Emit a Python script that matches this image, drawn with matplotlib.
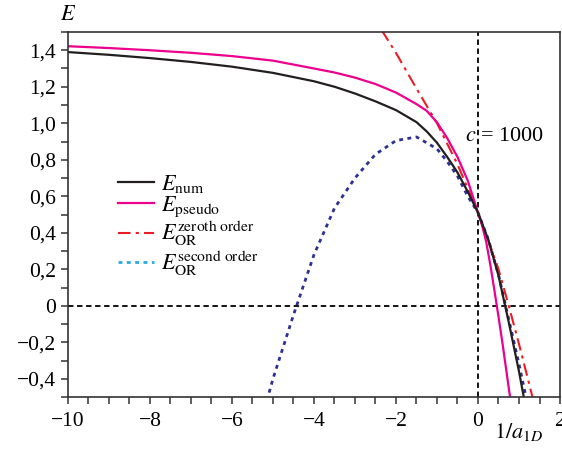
import matplotlib
matplotlib.use("Agg")
import matplotlib.pyplot as plt
from matplotlib.lines import Line2D
from matplotlib.ticker import MultipleLocator, FuncFormatter

plt.rcParams['font.family'] = ['Liberation Serif', 'DejaVu Serif']
plt.rcParams['mathtext.fontset'] = 'stix'

# E_num (black)
x_num = [-10, -9, -8, -7, -6, -5, -4, -3.5, -3, -2.5, -2, -1.5, -1.25, -1.0, -0.75,
         -0.5, -0.25, 0, 0.25, 0.5, 0.75, 1.0, 1.15]
e_num = [1.390, 1.375, 1.357, 1.336, 1.310, 1.276, 1.230, 1.200, 1.163, 1.120,
         1.072, 1.006, 0.955, 0.893, 0.815, 0.730, 0.625, 0.510, 0.362, 0.165,
         -0.09, -0.36, -0.54]

# E_pseudo (magenta)
x_pseudo = [-10, -9, -8, -7, -6, -5, -4, -3.5, -3, -2.5, -2, -1.5, -1.25, -1.0,
            -0.75, -0.5, -0.25, 0, 0.1, 0.2, 0.3, 0.4, 0.5, 0.6, 0.7, 0.8]
e_pseudo = [1.422, 1.412, 1.400, 1.386, 1.368, 1.343, 1.300, 1.278, 1.250, 1.215,
            1.168, 1.105, 1.068, 1.005, 0.918, 0.815, 0.686, 0.510, 0.440, 0.350,
            0.225, 0.085, -0.060, -0.210, -0.370, -0.530]

# E_OR zeroth order (red dash-dot)
x_zero = [-2.35, -2.0, -1.5, -1.0, -0.5, 0, 0.25, 0.5, 0.75, 1.0, 1.25, 1.35]
e_zero = [1.51, 1.385, 1.19, 1.00, 0.775, 0.51, 0.36, 0.20, 0.0, -0.21, -0.43, -0.52]

# E_OR second order (blue dotted)
x_second = [-5.15, -5.0, -4.5, -4.0, -3.5, -3.0, -2.5, -2.0, -1.5, -1.0, -0.75,
            -0.5, -0.25, 0, 0.25, 0.5, 0.75, 1.0, 1.2]
e_second = [-0.52, -0.40, -0.05, 0.28, 0.535, 0.70, 0.83, 0.905, 0.925, 0.86, 0.79,
            0.71, 0.60, 0.51, 0.365, 0.17, -0.075, -0.32, -0.53]

fig = plt.figure(figsize=(5.62, 4.49), dpi=100)
ax = fig.add_axes([68/562, 1 - 397/449, 492/562, 365/449])

ax.axhline(0, color='black', lw=1.3, ls=(0, (3, 2)))
ax.axvline(0, color='black', lw=1.3, ls=(0, (3, 2)))

ax.plot(x_second, e_second, color='#2e3192', lw=2, ls=(0, (1.4, 1.6)))
ax.plot(x_zero, e_zero, color='#ed1c24', lw=1.5, ls=(0, (6, 2.5, 1.5, 2.5)))
ax.plot(x_pseudo, e_pseudo, color='#ec008c', lw=1.6)
ax.plot(x_num, e_num, color='#231f20', lw=1.6)

ax.set_xlim(-10, 2)
ax.set_ylim(-0.5, 1.5)

ax.xaxis.set_major_locator(MultipleLocator(2))
ax.xaxis.set_minor_locator(MultipleLocator(0.5))
ax.yaxis.set_major_locator(MultipleLocator(0.2))
ax.yaxis.set_minor_locator(MultipleLocator(0.1))


def fmt_y(v, pos):
    if abs(v) < 1e-9:
        return '0'
    s = '%.1f' % v
    return s.replace('.', ',').replace('-', '\u2212')


def fmt_x(v, pos):
    return ('%d' % round(v)).replace('-', '\u2212')


ax.yaxis.set_major_formatter(FuncFormatter(fmt_y))
ax.xaxis.set_major_formatter(FuncFormatter(fmt_x))
ax.tick_params(which='both', direction='out', length=5, width=1.1,
               color='#333333', labelsize=15.5, top=False, right=False)
ax.tick_params(axis='x', pad=6)
for sp in ax.spines.values():
    sp.set_linewidth(1.2)
    sp.set_color('#333333')

ax.text(0.0, 1.044, '$E$', transform=ax.transAxes, ha='center', va='center',
        fontsize=16)
ax.text(0.915, -0.095, '$1/a_{1D}$', transform=ax.transAxes, ha='center',
        va='center', fontsize=16)
ax.text(-0.32, 0.93, '$c$ = 1000', ha='left', va='center', fontsize=16)

handles = [
    Line2D([], [], color='#231f20', lw=1.6),
    Line2D([], [], color='#ec008c', lw=1.6),
    Line2D([], [], color='#ed1c24', lw=1.5, ls=(0, (6, 2.5, 1.5, 2.5))),
    Line2D([], [], color='#29abe2', lw=2, ls=(0, (1.4, 1.6))),
]
labels = [r'$E_{\mathrm{num}}$', r'$E_{\mathrm{pseudo}}$',
          r'$E_{\mathrm{OR}}^{\mathrm{zeroth\ order}}$',
          r'$E_{\mathrm{OR}}^{\mathrm{second\ order}}$']
ax.legend(handles, labels, loc='upper left', bbox_to_anchor=(0.08, 0.645),
          frameon=False, fontsize=16, handlelength=1.6, handletextpad=0.3,
          labelspacing=0.0, borderpad=0)

fig.savefig('out.png', dpi=100)
